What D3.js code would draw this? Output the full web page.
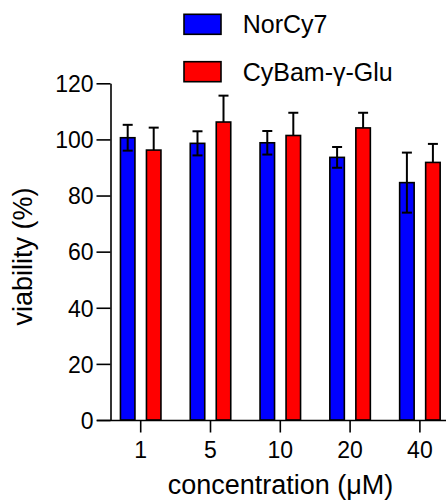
<!DOCTYPE html>
<html>
<head>
<meta charset="utf-8">
<script src="https://cdn.jsdelivr.net/npm/d3@7"></script>
<style>
  html, body { margin: 0; padding: 0; background: #fff; }
  svg { display: block; font-family: "Liberation Sans", Arial, sans-serif; }
</style>
</head>
<body>
<svg id="chart" width="446" height="501"></svg>
<script>
// Concentrations tested (µM)
const concentrations = ["1", "5", "10", "20", "40"];
// Probe names
const seriesNames = ["NorCy7", "CyBam-γ-Glu"];
const seriesColors = ["#0000ff", "#ff0000"];
// Mean viability (%) and SD for each probe
const norCy7Mean = [100.6, 98.6, 98.8, 93.6, 84.6];
const norCy7Sd = [4.6, 4.3, 4.2, 3.7, 10.7];
const cyBamMean = [96.2, 106.2, 101.4, 104.1, 91.8];
const cyBamSd = [8.0, 9.4, 8.1, 5.4, 6.6];
// Y axis ticks
const yTicks = [0, 20, 40, 60, 80, 100, 120];

const svg = d3.select("#chart");

const y = d3.scaleLinear().domain([0, 120]).range([420, 83.3]);
const x = d3.scaleBand().domain(concentrations).range([105.8, 454.8]).padding(0);
const xInner = d3.scaleBand().domain(seriesNames).range([-21, 21]).paddingInner(0.385);

const rows = concentrations.map((c, i) => ({
  c,
  values: [
    { s: seriesNames[0], mean: norCy7Mean[i], sd: norCy7Sd[i], color: seriesColors[0], both: true },
    { s: seriesNames[1], mean: cyBamMean[i], sd: cyBamSd[i], color: seriesColors[1], both: false }
  ]
}));

// Bars
const groups = svg.append("g").selectAll("g").data(rows).join("g")
  .attr("transform", d => `translate(${x(d.c) + x.bandwidth() / 2},0)`);

groups.selectAll("rect").data(d => d.values).join("rect")
  .attr("x", d => xInner(d.s) + 0.75)
  .attr("width", xInner.bandwidth() - 1.5)
  .attr("y", d => y(d.mean))
  .attr("height", d => y(0) - y(d.mean))
  .attr("fill", d => d.color)
  .attr("stroke", "#000")
  .attr("stroke-width", 1.6);

// Error bars: NorCy7 drawn both ways, CyBam upward only
const eb = groups.selectAll("g.err").data(d => d.values).join("g").attr("class", "err")
  .attr("transform", d => `translate(${xInner(d.s) + xInner.bandwidth() / 2},0)`)
  .attr("stroke", "#000").attr("stroke-width", 2).attr("fill", "none");

eb.append("line")
  .attr("x1", 0).attr("x2", 0)
  .attr("y1", d => y(d.mean + d.sd))
  .attr("y2", d => d.both ? y(d.mean - d.sd) : y(d.mean));
eb.append("line")
  .attr("x1", -5).attr("x2", 5)
  .attr("y1", d => y(d.mean + d.sd)).attr("y2", d => y(d.mean + d.sd));
eb.filter(d => d.both).append("line")
  .attr("x1", -5).attr("x2", 5)
  .attr("y1", d => y(d.mean - d.sd)).attr("y2", d => y(d.mean - d.sd));

// Y axis
const yAxis = svg.append("g")
  .attr("transform", "translate(110.5,0)")
  .call(d3.axisLeft(y).tickValues(yTicks).tickSize(14).tickPadding(3).tickSizeOuter(0));
yAxis.select(".domain").attr("stroke", "#000").attr("stroke-width", 1.6);
yAxis.selectAll(".tick line").attr("stroke", "#000").attr("stroke-width", 1.6);
yAxis.selectAll(".tick text")
  .attr("font-size", 23).attr("fill", "#000")
  .attr("font-family", "Liberation Sans, Arial, sans-serif")
  .attr("dy", "0.36em");

// X axis
const xAxis = svg.append("g")
  .attr("transform", "translate(0,420.5)")
  .call(d3.axisBottom(x).tickSize(12).tickPadding(9).tickSizeOuter(0));
xAxis.select(".domain").attr("d", "M97,0H446").attr("stroke", "#000").attr("stroke-width", 1.6);
xAxis.selectAll(".tick line").attr("stroke", "#000").attr("stroke-width", 1.6);
xAxis.selectAll(".tick text")
  .attr("font-size", 23).attr("fill", "#000")
  .attr("font-family", "Liberation Sans, Arial, sans-serif");

// Axis titles
svg.append("text")
  .attr("transform", "translate(32,256.5) rotate(-90)")
  .attr("text-anchor", "middle")
  .attr("font-size", 27)
  .text("viability (%)");

svg.append("text")
  .attr("x", 280.5).attr("y", 493.5)
  .attr("text-anchor", "middle")
  .attr("font-size", 27)
  .text("concentration (μM)");

// Legend
const legend = svg.append("g").selectAll("g").data(seriesNames).join("g")
  .attr("transform", (d, i) => `translate(184,${14.3 + i * 47.4})`);
legend.append("rect")
  .attr("width", 37).attr("height", 20)
  .attr("fill", (d, i) => seriesColors[i])
  .attr("stroke", "#000").attr("stroke-width", 1.6);
legend.append("text")
  .attr("x", 58.7).attr("y", 19)
  .attr("font-size", 25)
  .text(d => d);
</script>
</body>
</html>
